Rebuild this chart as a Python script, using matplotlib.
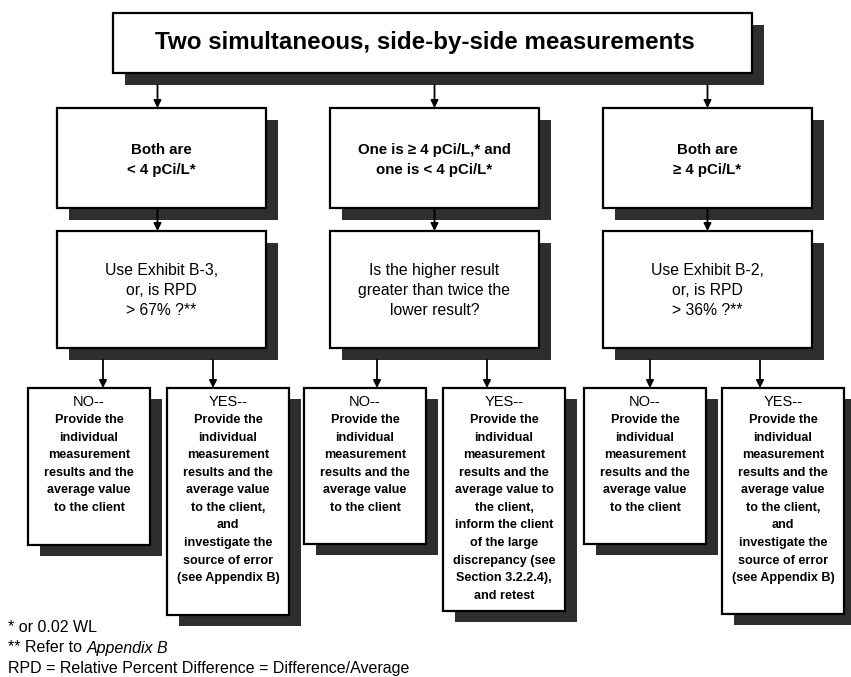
"""Flowchart: two simultaneous, side-by-side measurements"""

import matplotlib
matplotlib.use("Agg")
import matplotlib.pyplot as plt
from matplotlib.patches import Rectangle

plt.rcParams["font.family"] = ["Liberation Sans", "DejaVu Sans"]

# ---- content -------------------------------------------------------------
title_text = "Two simultaneous, side-by-side measurements"

condition_texts = [
    "Both are\n< 4 pCi/L*",
    "One is \u2265 4 pCi/L,* and\none is < 4 pCi/L*",
    "Both are\n\u2265 4 pCi/L*",
]

question_texts = [
    "Use Exhibit B-3,\nor, is RPD\n> 67% ?**",
    "Is the higher result\ngreater than twice the\nlower result?",
    "Use Exhibit B-2,\nor, is RPD\n> 36% ?**",
]

outcome_heads = ["NO--", "YES--", "NO--", "YES--", "NO--", "YES--"]
outcome_texts = [
    "Provide the\nindividual\nmeasurement\nresults and the\naverage value\nto the client",
    "Provide the\nindividual\nmeasurement\nresults and the\naverage value\nto the client,\nand\ninvestigate the\nsource of error\n(see Appendix B)",
    "Provide the\nindividual\nmeasurement\nresults and the\naverage value\nto the client",
    "Provide the\nindividual\nmeasurement\nresults and the\naverage value to\nthe client,\ninform the client\nof the large\ndiscrepancy (see\nSection 3.2.2.4),\nand retest",
    "Provide the\nindividual\nmeasurement\nresults and the\naverage value\nto the client",
    "Provide the\nindividual\nmeasurement\nresults and the\naverage value\nto the client,\nand\ninvestigate the\nsource of error\n(see Appendix B)",
]

footnote_1 = "* or 0.02 WL"
footnote_2 = ("** Refer to ", "Appendix B")
footnote_3 = "RPD = Relative Percent Difference = Difference/Average"

# ---- layout (pixels, y down) ---------------------------------------------
W, H = 851, 677
SHADOW = "#2e2e2e"
col_left = [57, 330, 603]
col_w = 209
cond_top, cond_h = 108, 100
quest_top, quest_h = 231, 117
out_left = [28, 167, 304, 443, 584, 722]
out_w = 122
out_top = 388
out_h = [157, 227, 156, 223, 156, 226]
out_arrow_x = [103, 213, 377, 487, 650, 760]

fig = plt.figure(figsize=(W / 100, H / 100), dpi=100)
ax = fig.add_axes([0, 0, 1, 1])
ax.set_xlim(0, W)
ax.set_ylim(H, 0)
ax.axis("off")


def box(x, y, w, h, dx=12, dy=12):
    ax.add_patch(Rectangle((x + dx, y + dy), w, h, facecolor=SHADOW,
                           edgecolor="none", zorder=1))
    ax.add_patch(Rectangle((x, y), w, h, facecolor="white",
                           edgecolor="black", linewidth=1.6, zorder=2))


def arrow(x, y0, y1):
    ax.annotate("", xy=(x, y1), xytext=(x, y0),
                arrowprops=dict(arrowstyle="-|>", color="black", lw=1.3,
                                mutation_scale=11, shrinkA=0, shrinkB=0),
                zorder=3)


# top box
box(113, 13, 639, 60)
ax.text(425, 42, title_text, ha="center", va="center",
        fontsize=17.4, fontweight="bold", zorder=4)

for i, cx in enumerate(col_left):
    mid = cx + col_w / 2
    ax_x = mid - 4 if i == 0 else mid
    arrow(ax_x, 85, cond_top)
    box(cx, cond_top, col_w, cond_h)
    ax.text(mid, cond_top + cond_h / 2 + 2, condition_texts[i], ha="center",
            va="center", fontsize=10.8, fontweight="bold", linespacing=1.52,
            zorder=4)
    arrow(ax_x, cond_top + cond_h, quest_top)
    box(cx, quest_top, col_w, quest_h)
    ax.text(mid, quest_top + quest_h / 2 + 1, question_texts[i], ha="center",
            va="center", fontsize=11.3, linespacing=1.42, zorder=4)

for i, ox in enumerate(out_left):
    cx = ox + out_w / 2
    arrow(out_arrow_x[i], quest_top + quest_h + 12, out_top)
    box(ox, out_top, out_w, out_h[i], dx=12, dy=11)
    ax.text(cx, 402, outcome_heads[i], ha="center", va="center",
            fontsize=10.5, zorder=4)
    ax.text(cx, 414, outcome_texts[i], ha="center", va="top",
            fontsize=9.1, fontweight="bold", linespacing=1.62, zorder=4)

# footnotes
fs = 11.5
ax.text(8, 627, footnote_1, ha="left", va="center", fontsize=fs)
t2 = ax.text(8, 648, footnote_2[0], ha="left", va="center", fontsize=fs)
ax.annotate(footnote_2[1], xy=(1, 0), xycoords=t2, ha="left", va="bottom",
            fontsize=fs, style="italic")
ax.text(8, 668, footnote_3, ha="left", va="center", fontsize=fs)

fig.savefig("out.png", dpi=100)
